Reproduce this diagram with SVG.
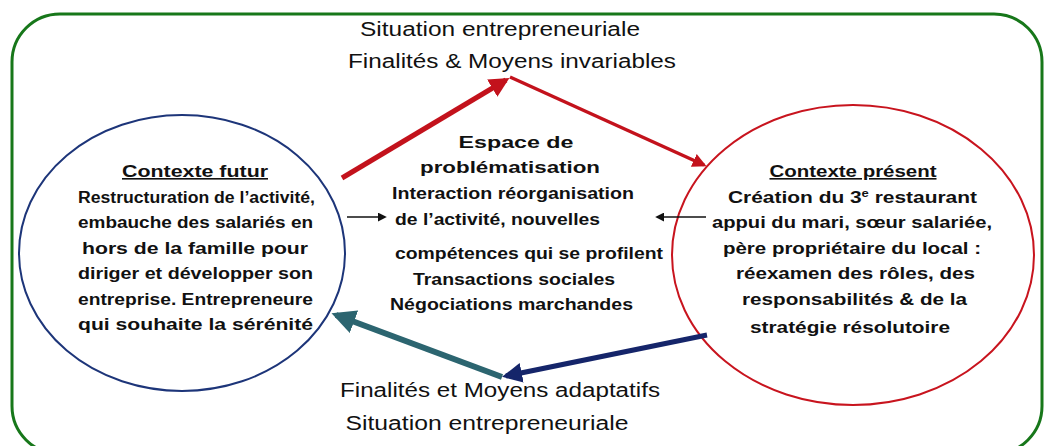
<svg xmlns="http://www.w3.org/2000/svg" width="1049" height="446" viewBox="0 0 1049 446">
<defs>
<style>
.t{font-family:"Liberation Sans",Arial,sans-serif;fill:#111;}
.n{font-size:20px;}
.b{font-size:17px;font-weight:bold;}
.h{font-size:16px;font-weight:bold;text-decoration:underline;}
.c{font-size:16px;font-weight:bold;}
</style>
<marker id="mr" viewBox="0 0 10 10" refX="8" refY="5" markerWidth="4" markerHeight="4" orient="auto" markerUnits="strokeWidth"><path d="M0,0L10,5L0,10z" fill="#c3121c"/></marker>
<marker id="mt" viewBox="0 0 10 10" refX="8" refY="5" markerWidth="4" markerHeight="4" orient="auto" markerUnits="strokeWidth"><path d="M0,0L10,5L0,10z" fill="#2c6570"/></marker>
<marker id="mn" viewBox="0 0 10 10" refX="8" refY="5" markerWidth="4" markerHeight="4" orient="auto" markerUnits="strokeWidth"><path d="M0,0L10,5L0,10z" fill="#15256a"/></marker>
<marker id="mk" viewBox="0 0 10 10" refX="8" refY="5" markerWidth="6" markerHeight="6" orient="auto" markerUnits="strokeWidth"><path d="M0,0L10,5L0,10z" fill="#111"/></marker>
</defs>
<rect width="1049" height="446" fill="#fff"/>
<g id="frame">
<rect x="12" y="14" width="1030" height="440" rx="48" fill="none" stroke="#17771a" stroke-width="3"/>
<text class="t n" x="500" y="36" text-anchor="middle" textLength="280" lengthAdjust="spacingAndGlyphs">Situation entrepreneuriale</text>
<text class="t n" x="512" y="68" text-anchor="middle" textLength="328" lengthAdjust="spacingAndGlyphs">Finalités &amp; Moyens invariables</text>
<text class="t n" x="500" y="397" text-anchor="middle" textLength="320" lengthAdjust="spacingAndGlyphs">Finalités et Moyens adaptatifs</text>
<text class="t n" x="487" y="430" text-anchor="middle" textLength="283" lengthAdjust="spacingAndGlyphs">Situation entrepreneuriale</text>
</g>
<g id="futur">
<ellipse cx="182" cy="253" rx="163" ry="138" fill="none" stroke="#1d3579" stroke-width="2"/>
<text class="t h" x="195" y="177" text-anchor="middle" textLength="146" lengthAdjust="spacingAndGlyphs">Contexte futur</text>
<text class="t c" x="78" y="203" textLength="237" lengthAdjust="spacingAndGlyphs">Restructuration de l’activité,</text>
<text class="t c" x="78" y="228" textLength="235" lengthAdjust="spacingAndGlyphs">embauche des salariés  en</text>
<text class="t c" x="82" y="254" textLength="226" lengthAdjust="spacingAndGlyphs">hors de la famille pour</text>
<text class="t c" x="78" y="279" textLength="235" lengthAdjust="spacingAndGlyphs">diriger et développer son</text>
<text class="t c" x="78" y="305" textLength="235" lengthAdjust="spacingAndGlyphs">entreprise. Entrepreneure</text>
<text class="t c" x="78" y="330" textLength="235" lengthAdjust="spacingAndGlyphs">qui souhaite la sérénité</text>
</g>
<g id="present">
<ellipse cx="853" cy="255" rx="181" ry="150" fill="none" stroke="#c8141e" stroke-width="2"/>
<text class="t h" x="853" y="177" text-anchor="middle" textLength="167" lengthAdjust="spacingAndGlyphs">Contexte présent</text>
<text class="t c" x="728" y="203" textLength="249" lengthAdjust="spacingAndGlyphs">Création  du  3<tspan font-size="10" dy="-6">e</tspan><tspan dy="6"> restaurant</tspan></text>
<text class="t c" x="712" y="228" textLength="280" lengthAdjust="spacingAndGlyphs">appui du mari, sœur salariée,</text>
<text class="t c" x="723" y="254" textLength="258" lengthAdjust="spacingAndGlyphs">père propriétaire du local  :</text>
<text class="t c" x="736" y="279" textLength="239" lengthAdjust="spacingAndGlyphs">réexamen des rôles, des</text>
<text class="t c" x="742" y="305" textLength="225" lengthAdjust="spacingAndGlyphs">responsabilités &amp; de la</text>
<text class="t c" x="750" y="333" textLength="200" lengthAdjust="spacingAndGlyphs">stratégie  résolutoire</text>
</g>
<g id="espace">
<text class="t b" x="516" y="148" text-anchor="middle" textLength="115" lengthAdjust="spacingAndGlyphs">Espace de</text>
<text class="t b" x="510" y="173" text-anchor="middle" textLength="180" lengthAdjust="spacingAndGlyphs">problématisation</text>
<text class="t b" x="392" y="199" textLength="242" lengthAdjust="spacingAndGlyphs">Interaction réorganisation</text>
<text class="t b" x="395" y="225" textLength="205" lengthAdjust="spacingAndGlyphs">de l’activité, nouvelles</text>
<text class="t b" x="395" y="259" textLength="268" lengthAdjust="spacingAndGlyphs">compétences qui se profilent</text>
<text class="t b" x="413" y="285" textLength="202" lengthAdjust="spacingAndGlyphs">Transactions sociales</text>
<text class="t b" x="390" y="310" textLength="243" lengthAdjust="spacingAndGlyphs">Négociations marchandes</text>
</g>
<g id="connectors" fill="none">
<line x1="342" y1="178" x2="506" y2="80" stroke="#c3121c" stroke-width="5" marker-end="url(#mr)"/>
<line x1="510" y1="77" x2="704" y2="165" stroke="#c3121c" stroke-width="3.5" marker-end="url(#mr)"/>
<line x1="502" y1="377" x2="336" y2="315" stroke="#2c6570" stroke-width="6" marker-end="url(#mt)"/>
<line x1="707" y1="335" x2="506" y2="376" stroke="#15256a" stroke-width="5" marker-end="url(#mn)"/>
<line x1="347" y1="217" x2="385" y2="217" stroke="#111" stroke-width="1.5" marker-end="url(#mk)"/>
<line x1="706" y1="217" x2="657" y2="217" stroke="#111" stroke-width="1.5" marker-end="url(#mk)"/>
</g>
</svg>
